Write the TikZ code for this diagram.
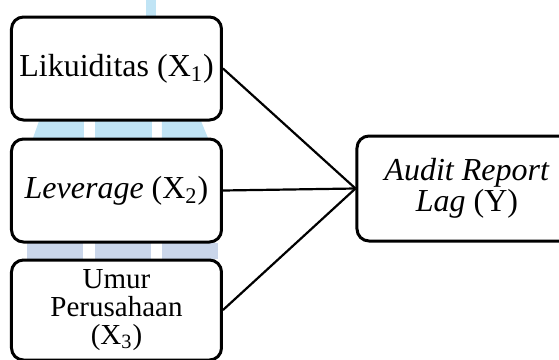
\documentclass[tikz,border=0pt]{standalone}
\usepackage{fontspec}
\setmainfont{Liberation Serif}
\usepackage{xcolor}
\usepackage{tikz}
\usetikzlibrary{positioning}

\definecolor{wmblue}{RGB}{192,228,245}
\definecolor{wmslate}{RGB}{202,214,234}

\begin{document}
\begin{tikzpicture}[
  x=0.5pt, y=-0.5pt,
  varbox/.style={draw, line width=1.5pt, rounded corners=6pt, fill=white,
                 align=center, inner sep=2pt,
                 font=\fontsize{16}{14}\selectfont},
  link/.style={line width=1.1pt}
]
\useasboundingbox (0,0) rectangle (559,360);

%─── faint watermark behind the boxes ───────────────────────────────────
\fill[wmblue] (146,0) rectangle (156,17);
\fill[wmblue] (39,121) -- (84,121) -- (84,138) -- (33,138) -- cycle;
\fill[wmblue] (95,121) rectangle (152,138);
\fill[wmblue] (162,121) -- (201,121) -- (208,138) -- (162,138) -- cycle;
\fill[wmslate] (27,243) rectangle (83,259);
\fill[wmslate] (95,243) rectangle (151,259);
\fill[wmslate] (162,243) rectangle (218,259);

%─── independent variables ─────────────────────────────────────────────
\node[varbox, minimum width=105pt, minimum height=51.5pt] (likuid)
  at (116.5,68.5) {Likuiditas (X\textsubscript{1})};
\node[varbox, minimum width=105pt, minimum height=51.5pt] (lever)
  at (116.5,190.5) {\textit{Leverage} (X\textsubscript{2})};
\node[varbox, minimum width=105pt, minimum height=50pt,
      font=\fontsize{14.5}{14}\selectfont] (umur)
  at (116.5,310) {Umur\\Perusahaan\\(X\textsubscript{3})};

%─── dependent variable ────────────────────────────────────────────────
\node[varbox, minimum width=110pt, minimum height=52.5pt] (arl)
  at (467,188.5) {\textit{Audit Report}\\\textit{Lag} (Y)};

% links
\draw[link] (likuid.east) -- (arl.west);
\draw[link] (lever.east) -- (arl.west);
\draw[link] (umur.east) -- (arl.west);

\end{tikzpicture}
\end{document}
